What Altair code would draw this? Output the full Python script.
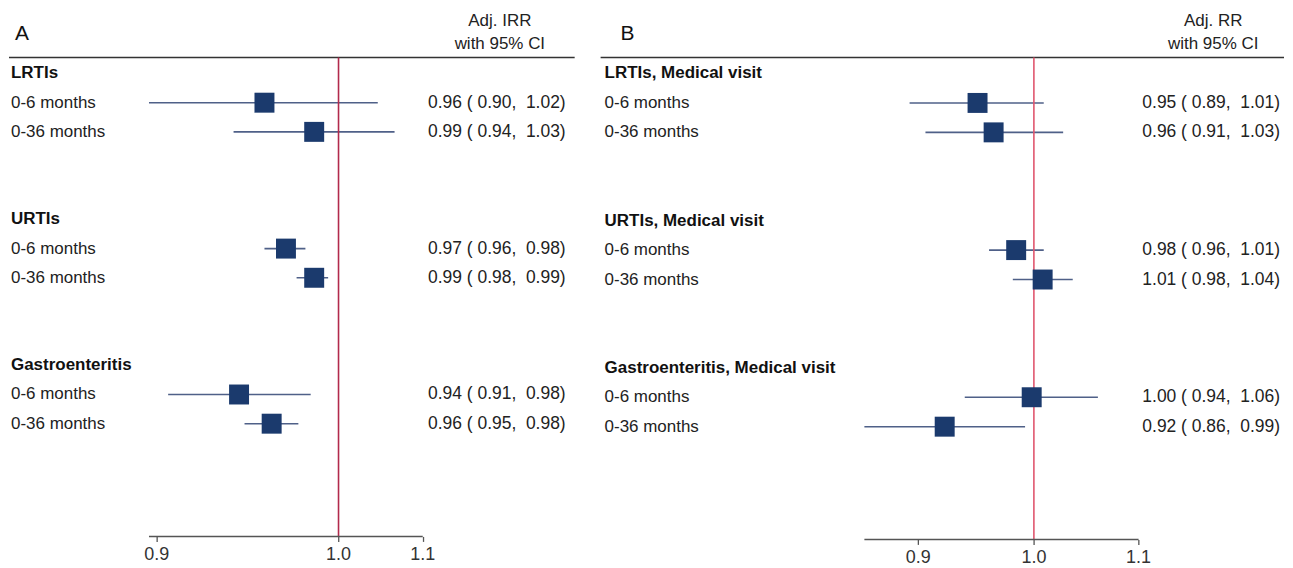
import math
import altair as alt
import pandas as pd

# ---------------- data ----------------
outcomes_A = ["LRTIs", "URTIs", "Gastroenteritis"]
outcomes_B = ["LRTIs, Medical visit", "URTIs, Medical visit", "Gastroenteritis, Medical visit"]
periods = ["0-6 months", "0-36 months"]

# Panel A: adjusted IRR with 95% CI (order: LRTI 0-6, LRTI 0-36, URTI 0-6, URTI 0-36, GE 0-6, GE 0-36)
est_A = [0.958, 0.986, 0.970, 0.986, 0.944, 0.962]
lo_A = [0.896, 0.941, 0.958, 0.976, 0.906, 0.947]
hi_A = [1.023, 1.033, 0.981, 0.994, 0.984, 0.977]

# Panel B: adjusted RR with 95% CI
est_B = [0.950, 0.964, 0.984, 1.008, 0.998, 0.922]
lo_B = [0.893, 0.906, 0.960, 0.981, 0.939, 0.857]
hi_B = [1.009, 1.027, 1.009, 1.036, 1.060, 0.992]

tick_values_A = [0.9, 1.0, 1.05]
tick_values_B = [0.9, 1.0, 1.1]
null_value = 1.0

FONT = "Liberation Sans, Arial, sans-serif"
SQ_COLOR = "#1b3a6d"
CI_COLOR = "#4f6088"
AXIS_COLOR = "#555555"


def build_tables(outcomes, est, lo, hi):
    heads, subs, rows = [], [], []
    for g, name in enumerate(outcomes):
        heads.append({"row": 5 * g, "label": name})
        for j, p in enumerate(periods):
            i = 2 * g + j
            r = 5 * g + 1 + j
            subs.append({"row": r, "label": p})
            rows.append({
                "row": r, "est": est[i], "lo": lo[i], "hi": hi[i],
                "text": f"{est[i]:.2f} ( {lo[i]:.2f},\u00a0 {hi[i]:.2f})",
            })
    return pd.DataFrame(heads), pd.DataFrame(subs), pd.DataFrame(rows)


def text_at(s, x, y, size, align="left", weight="normal", color="#222222"):
    return alt.Chart(pd.DataFrame({"t": [s]})).mark_text(
        align=align, baseline="middle", font=FONT, fontSize=size, fontWeight=weight,
        color=color).encode(x=alt.value(x), y=alt.value(y), text="t:N")


def panel(letter, col_title, outcomes, est, lo, hi, ticks, null_color,
          width, height, x_null, px_per_ln, row0, pitch,
          letter_x, header_x, label_x, est_x, rule_end):
    head_df, sub_df, est_df = build_tables(outcomes, est, lo, hi)
    dom = [math.exp(-x_null / px_per_ln), math.exp((width - x_null) / px_per_ln)]
    xs = alt.Scale(type="log", domain=dom, nice=False)
    ys = alt.Scale(domain=[-row0 / pitch, (height - row0) / pitch], reverse=True,
                   nice=False, zero=False)
    x_axis = alt.Axis(values=ticks, domain=False, grid=False, labels=False,
                      tickSize=5, tickWidth=1.3, tickColor=AXIS_COLOR, title=None)
    y_enc = alt.Y("row:Q", scale=ys, axis=None)

    ci = alt.Chart(est_df).mark_rule(strokeWidth=1.6, color=CI_COLOR).encode(
        x=alt.X("lo:Q", scale=xs, axis=x_axis), x2="hi:Q", y=y_enc)

    null_df = pd.DataFrame({"x": [null_value]})
    null_line = alt.Chart(null_df).mark_rule(strokeWidth=1.6, color=null_color).encode(
        x=alt.X("x:Q", scale=xs, axis=x_axis), y=alt.value(49), y2=alt.value(height))

    axis_df = pd.DataFrame({"x0": [min(lo)], "x1": [max(ticks)]})
    axis_line = alt.Chart(axis_df).mark_rule(strokeWidth=1.5, color=AXIS_COLOR).encode(
        x=alt.X("x0:Q", scale=xs, axis=x_axis), x2="x1:Q", y=alt.value(height))

    tick_df = pd.DataFrame({"v": ticks, "lab": [f"{t:.1f}" for t in ticks]})
    tick_labels = alt.Chart(tick_df).mark_text(
        align="center", baseline="middle", font=FONT, fontSize=18, color="#333333").encode(
        x=alt.X("v:Q", scale=xs, axis=x_axis), y=alt.value(height + 19), text="lab:N")

    squares = alt.Chart(est_df).mark_square(size=400, opacity=1, color=SQ_COLOR).encode(
        x=alt.X("est:Q", scale=xs, axis=x_axis), y=y_enc)

    est_text = alt.Chart(est_df).mark_text(
        align="left", baseline="middle", font=FONT, fontSize=17.5, color="#222222").encode(
        x=alt.value(est_x), y=y_enc, text="text:N")

    head_text = alt.Chart(head_df).mark_text(
        align="left", baseline="middle", font=FONT, fontSize=17, fontWeight="bold",
        color="#111111").encode(x=alt.value(label_x), y=y_enc, text="label:N")

    sub_text = alt.Chart(sub_df).mark_text(
        align="left", baseline="middle", font=FONT, fontSize=17, color="#222222").encode(
        x=alt.value(label_x), y=y_enc, text="label:N")

    letter_mark = text_at(letter, letter_x, 25, 21, color="#111111")
    col_head1 = text_at(col_title[0], header_x, 12, 17, align="center")
    col_head2 = text_at(col_title[1], header_x, 35, 17, align="center")

    top_rule = alt.Chart(pd.DataFrame({"v": [0]})).mark_rule(
        strokeWidth=1.6, color="#333333").encode(
        x=alt.value(0), x2=alt.value(rule_end), y=alt.value(49))

    return alt.layer(
        top_rule, ci, null_line, axis_line, squares, est_text, head_text, sub_text,
        letter_mark, col_head1, col_head2, tick_labels,
    ).properties(width=width, height=height)


panel_A = panel("A", ["Adj. IRR", "with 95% CI"], outcomes_A, est_A, lo_A, hi_A, tick_values_A,
                "#b22a4c", width=592, height=529, x_null=330.3, px_per_ln=1730,
                row0=65, pitch=29.25, letter_x=6, header_x=492, label_x=2, est_x=420,
                rule_end=567)

panel_B = panel("B", ["Adj. RR", "with 95% CI"], outcomes_B, est_B, lo_B, hi_B, tick_values_B,
                "#e0566e", width=685, height=532, x_null=434.3, px_per_ln=1101,
                row0=65, pitch=29.5, letter_x=20, header_x=614, label_x=4, est_x=543,
                rule_end=685)

chart = alt.hconcat(panel_A, panel_B, spacing=0).properties(
    padding=0, background="white"
).configure_view(stroke=None)

chart.save("out.html", embed_options={"renderer": "svg", "actions": False})
